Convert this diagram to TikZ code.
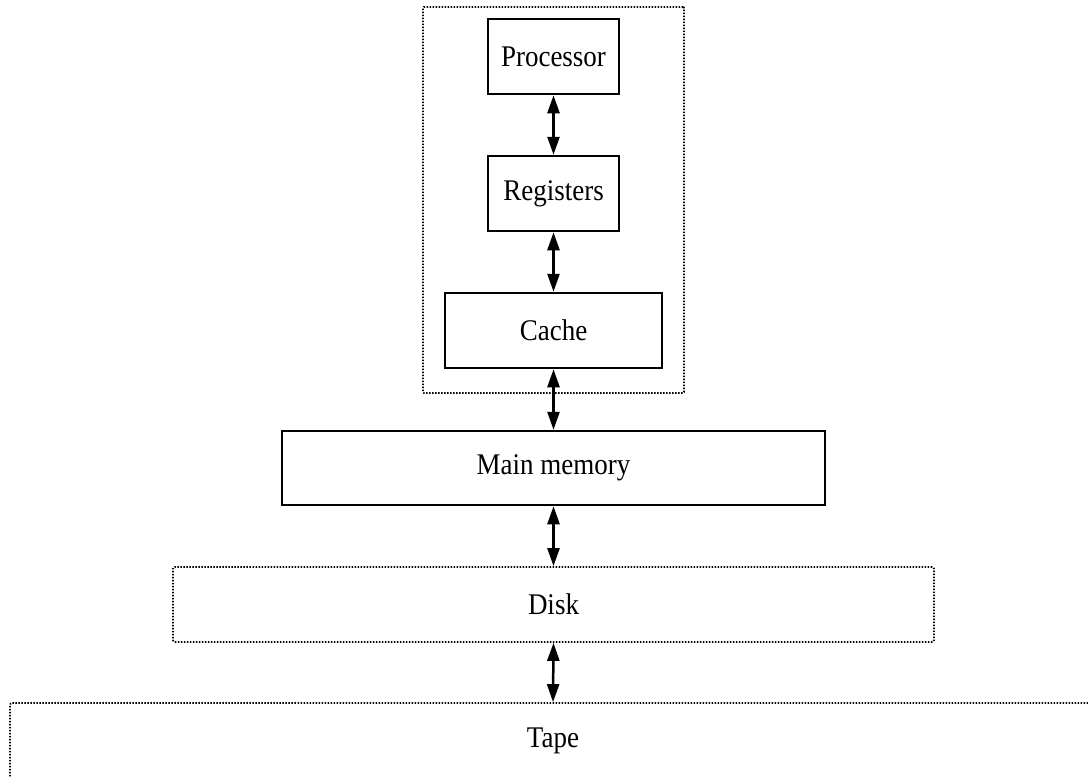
\documentclass[tikz,border=0pt]{standalone}
\usepackage{fontspec}
\setmainfont{Liberation Serif}[FakeStretch=0.9]
\usetikzlibrary{arrows.meta}
\begin{document}
\begin{tikzpicture}[x=1pt,y=-1pt,
  solidbox/.style={draw,line width=2.5pt,inner sep=0pt,font=\fontsize{30}{32}\selectfont},
  dotbox/.style={draw,line width=1.8pt,dash pattern=on 1.5pt off 1.5pt,rounded corners=2pt,inner sep=0pt,font=\fontsize{30}{32}\selectfont},
  link/.style={line width=2.5pt,{Triangle[length=18pt,width=12pt]}-{Triangle[length=18pt,width=12pt]}}]
\useasboundingbox (0,0) rectangle (1088,777);
\node[dotbox,rounded corners=1pt,minimum width=261pt,minimum height=386pt] (group) at (553.5,200) {};
\node[solidbox,minimum width=131pt,minimum height=75pt] (proc) at (553.5,56.5) {Processor};
\node[solidbox,minimum width=131pt,minimum height=75pt] (reg) at (553.5,193.5) {Registers};
\node[solidbox,minimum width=217pt,minimum height=75pt] (cache) at (553.5,330.5) {Cache};
\node[solidbox,minimum width=543pt,minimum height=74pt] (mem) at (553.5,468) {Main memory};
\node[dotbox,minimum width=761pt,minimum height=75pt] (disk) at (553.5,604.5) {Disk};
\node[dotbox,minimum width=1086pt,minimum height=76pt] (tape) at (553,741) {Tape};
\draw[link] (proc.south) -- (reg.north);
\draw[link] (reg.south) -- (cache.north);
\draw[link] (cache.south) -- (mem.north);
\draw[link] (mem.south) -- (disk.north);
\draw[link] (disk.south) -- (tape.north);
\end{tikzpicture}
\end{document}
